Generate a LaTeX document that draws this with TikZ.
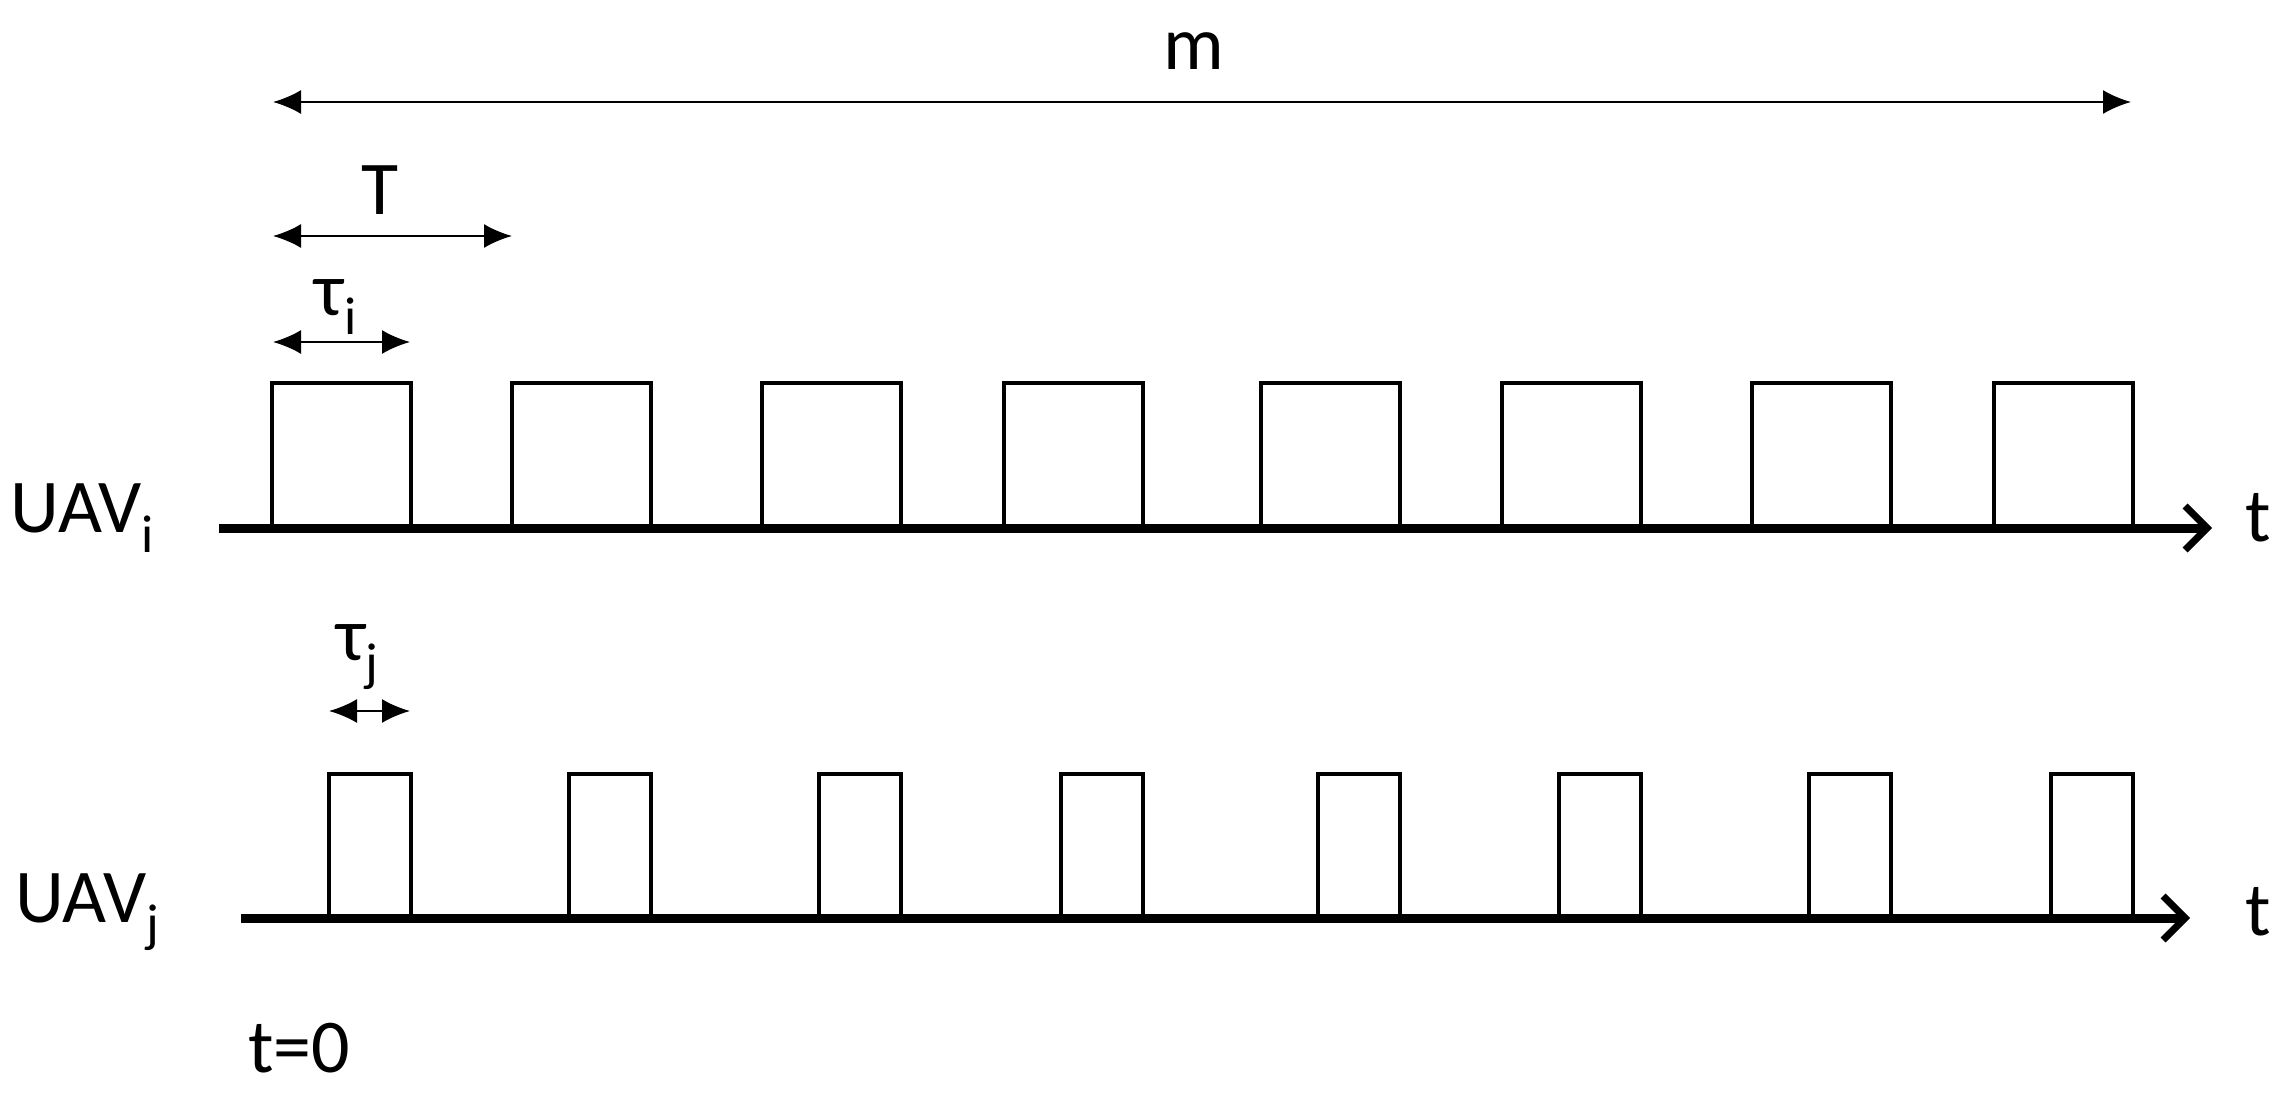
\documentclass[tikz,border=0pt]{standalone}
\usepackage{fontspec}
\setmainfont{Carlito}
\usetikzlibrary{arrows.meta}
\begin{document}
\begin{tikzpicture}[x=0.5pt,y=-0.5pt,
  dim/.style={line width=1.1pt,{Latex[length=14pt,width=12pt]}-{Latex[length=14pt,width=12pt]}},
  axis/.style={line width=4.5pt,-{Straight Barb[length=11pt,width=22pt,line width=3.5pt]}},
  pulse/.style={line width=2.2pt},
  lbl/.style={font=\fontsize{38}{42}\selectfont,inner sep=0pt}]
\useasboundingbox (0,0) rectangle (2289,1092);
% dimension arrows
\coordinate (m1) at (273,102); \coordinate (m2) at (2131,102);
\draw[dim] (m1) -- (m2);
\node[lbl] (mlab) at (1194,51) {m};
\coordinate (T1) at (273,236); \coordinate (T2) at (512,236);
\draw[dim] (T1) -- (T2);
\node[lbl] (Tlab) at (380,190) {T};
\coordinate (ti1) at (273,342); \coordinate (ti2) at (410,342);
\draw[dim] (ti1) -- (ti2);
\node[lbl] (tilab) at (336,307) {τ\textsubscript{i}};
\coordinate (tj1) at (329,711); \coordinate (tj2) at (410,711);
\draw[dim] (tj1) -- (tj2);
\node[lbl] (tjlab) at (358,657) {τ\textsubscript{j}};
% axes
\coordinate (ai1) at (219,528); \coordinate (ai2) at (2212,528);
\coordinate (aj1) at (241,918); \coordinate (aj2) at (2190,918);
\draw[axis] (ai1) -- (ai2);
\draw[axis] (aj1) -- (aj2);
\node[lbl] (ti) at (2258,518) {t};
\node[lbl] (tj) at (2258,912) {t};
\node[lbl] (uavi) at (83,518) {UAV\textsubscript{i}};
\node[lbl] (uavj) at (88,912) {UAV\textsubscript{j}};
\node[lbl] (t0) at (299,1048) {t=0};
% pulses
\foreach \x in {272,512,762,1004,1261,1502,1752,1994}{
  \draw[pulse] (\x,528) -- (\x,383) -- (\x+139,383) -- (\x+139,528);
  \draw[pulse] (\x+57,918) -- (\x+57,774) -- (\x+139,774) -- (\x+139,918);
}
\end{tikzpicture}
\end{document}
